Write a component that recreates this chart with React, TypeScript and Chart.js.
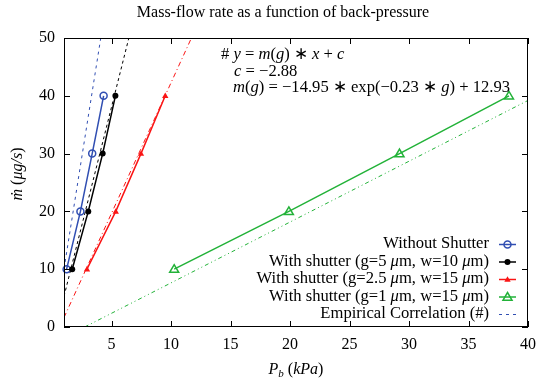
import React, { useEffect, useRef } from "react";
import { Chart, registerables } from "chart.js";

Chart.register(...registerables);

const xTicks = [5, 10, 15, 20, 25, 30, 35, 40];
const yTicks = [0, 10, 20, 30, 40, 50];

const flowY = [10, 20, 30, 40];
const noShutterX = [1.22, 2.38, 3.37, 4.33];
const g5X = [1.69, 3.04, 4.25, 5.32];
const g25X = [2.93, 5.35, 7.47, 9.51];
const g1X = [10.26, 19.9, 29.2, 38.4];

const corrBlueX = [1, 4.09];
const corrBlueY = [10.05, 50];
const corrBlackX = [1, 6.45];
const corrBlackY = [5.3, 50];
const corrRedX = [1, 11.71];
const corrRedY = [1.64, 50];
const corrGreenX = [2.74, 40];
const corrGreenY = [0, 39.2];

const BLUE = "rgb(48,78,178)";
const BLACK = "rgb(0,0,0)";
const RED = "rgb(250,20,20)";
const GREEN = "rgb(34,178,56)";

const FONT = '"Liberation Serif", "Times New Roman", serif';
const FS = 16;
const FA = 16.6;

const pts = (xs: number[], ys: number[]) => xs.map((x, i) => ({ x, y: ys[i] }));

type Seg = [string, boolean, number?, number?];

function segWidth(ctx: CanvasRenderingContext2D, segs: Seg[], size: number) {
  let w = 0;
  for (const s of segs) {
    ctx.font = `${s[1] ? "italic " : ""}${s[2] ?? size}px ${FONT}`;
    w += ctx.measureText(s[0]).width;
  }
  return w;
}

function drawSegs(ctx: CanvasRenderingContext2D, segs: Seg[], x: number, y: number, size: number, align: "left" | "right" | "center") {
  const w = segWidth(ctx, segs, size);
  let cx = align === "left" ? x : align === "right" ? x - w : x - w / 2;
  ctx.textAlign = "left";
  ctx.textBaseline = "middle";
  for (const s of segs) {
    ctx.font = `${s[1] ? "italic " : ""}${s[2] ?? size}px ${FONT}`;
    ctx.fillText(s[0], cx, y + (s[3] ?? 0));
    cx += ctx.measureText(s[0]).width;
  }
}

function marker(ctx: CanvasRenderingContext2D, type: string, x: number, y: number, color: string) {
  ctx.save();
  ctx.strokeStyle = color;
  ctx.fillStyle = color;
  ctx.lineWidth = 1.5;
  ctx.setLineDash([]);
  ctx.beginPath();
  if (type === "circleOpen") {
    ctx.arc(x, y, 3.5, 0, Math.PI * 2);
    ctx.stroke();
  } else if (type === "circle") {
    ctx.arc(x, y, 3, 0, Math.PI * 2);
    ctx.fill();
  } else if (type === "tri") {
    const r = 3.2;
    ctx.moveTo(x, y - r);
    ctx.lineTo(x + r, y + r * 0.7);
    ctx.lineTo(x - r, y + r * 0.7);
    ctx.closePath();
    ctx.fill();
  } else if (type === "triOpen") {
    const r = 4.5;
    ctx.moveTo(x, y - r);
    ctx.lineTo(x + r, y + r * 0.7);
    ctx.lineTo(x - r, y + r * 0.7);
    ctx.closePath();
    ctx.stroke();
  }
  ctx.restore();
}

const legendItems: { segs: Seg[]; color: string; marker: string; dash: number[]; width: number }[] = [
  { segs: [["Without Shutter", false]], color: BLUE, marker: "circleOpen", dash: [], width: 1.5 },
  {
    segs: [["With shutter (g=5 ", false], ["μ", true], ["m, w=10 ", false], ["μ", true], ["m)", false]],
    color: BLACK, marker: "circle", dash: [], width: 1.5,
  },
  {
    segs: [["With shutter (g=2.5 ", false], ["μ", true], ["m, w=15 ", false], ["μ", true], ["m)", false]],
    color: RED, marker: "tri", dash: [], width: 1.5,
  },
  {
    segs: [["With shutter (g=1 ", false], ["μ", true], ["m, w=15 ", false], ["μ", true], ["m)", false]],
    color: GREEN, marker: "triOpen", dash: [], width: 1.5,
  },
  { segs: [["Empirical Correlation (#)", false]], color: BLUE, marker: "", dash: [3, 4], width: 1 },
];

const decorPlugin = {
  id: "decor",
  afterDraw(chart: any) {
    const ctx: CanvasRenderingContext2D = chart.ctx;
    const { left, right, top, bottom } = chart.chartArea;
    const xs = chart.scales.x;
    const ys = chart.scales.y;
    ctx.save();
    // frame
    ctx.strokeStyle = "#000";
    ctx.lineWidth = 1;
    ctx.setLineDash([]);
    ctx.strokeRect(left + 0.5, top + 0.5, right - left - 1, bottom - top - 1);
    const tl = 6;
    ctx.beginPath();
    for (const v of xTicks) {
      const px = Math.round(xs.getPixelForValue(v)) + 0.5;
      ctx.moveTo(px, bottom);
      ctx.lineTo(px, bottom - tl);
      ctx.moveTo(px, top);
      ctx.lineTo(px, top + tl);
    }
    for (const v of yTicks) {
      const py = Math.round(ys.getPixelForValue(v)) + 0.5;
      ctx.moveTo(left, py);
      ctx.lineTo(left + tl, py);
      ctx.moveTo(right, py);
      ctx.lineTo(right - tl, py);
    }
    ctx.stroke();

    ctx.fillStyle = "#000";
    // title
    drawSegs(ctx, [["Mass-flow rate as a function of back-pressure", false]], 283, 13, FS, "center");
    // x label
    drawSegs(ctx, [["P", true], ["b", true, 11, 4], [" (", false], ["kPa", true], [")", false]], (left + right) / 2, 370, FS, "center");
    // y label
    ctx.save();
    ctx.translate(18, 174);
    ctx.rotate(-Math.PI / 2);
    drawSegs(ctx, [["ṁ", true], [" (", false], ["μg/s", true], [")", false]], 0, 0, FS, "center");
    ctx.restore();

    // annotation
    drawSegs(ctx, [["# ", false], ["y", true], [" = ", false], ["m", true], ["(", false], ["g", true], [") ∗ ", false], ["x", true], [" + ", false], ["c", true]], 221, 55, FA, "left");
    drawSegs(ctx, [["c", true], [" = −2.88", false]], 234, 72, FA, "left");
    drawSegs(ctx, [["m", true], ["(", false], ["g", true], [") = −14.95 ∗ exp(−0.23 ∗ ", false], ["g", true], [") + 12.93", false]], 233, 88, FA, "left");

    // legend
    legendItems.forEach((it, i) => {
      const y = 244 + i * 17.5;
      ctx.fillStyle = "#000";
      drawSegs(ctx, it.segs, 489, y, FA, "right");
      ctx.save();
      ctx.strokeStyle = it.color;
      ctx.lineWidth = it.width;
      ctx.setLineDash(it.dash);
      ctx.beginPath();
      ctx.moveTo(499, y + 0.5);
      ctx.lineTo(516, y + 0.5);
      ctx.stroke();
      ctx.restore();
      if (it.marker) marker(ctx, it.marker, 507.5, y + 0.5, it.color);
    });
    ctx.restore();
  },
};

const markerPlugin = {
  id: "markers",
  afterDatasetsDraw(chart: any) {
    const ctx: CanvasRenderingContext2D = chart.ctx;
    chart.data.datasets.forEach((ds: any, i: number) => {
      if (!ds.markerType) return;
      const meta = chart.getDatasetMeta(i);
      meta.data.forEach((el: any) => marker(ctx, ds.markerType, el.x, el.y, ds.borderColor));
    });
  },
};

export default function App() {
  const ref = useRef<HTMLCanvasElement>(null);
  useEffect(() => {
    if (!ref.current) return;
    const line = (data: any, color: string, extra: any) => ({
      data,
      borderColor: color,
      backgroundColor: color,
      showLine: true,
      pointRadius: 0,
      pointHoverRadius: 0,
      tension: 0,
      ...extra,
    });
    const chart = new Chart(ref.current, {
      type: "scatter",
      data: {
        datasets: [
          line(pts(corrBlueX, corrBlueY), BLUE, { borderWidth: 1, borderDash: [3, 4] }),
          line(pts(corrBlackX, corrBlackY), BLACK, { borderWidth: 1, borderDash: [3, 3] }),
          line(pts(corrRedX, corrRedY), RED, { borderWidth: 1, borderDash: [5, 3, 1, 3] }),
          line(pts(corrGreenX, corrGreenY), GREEN, { borderWidth: 1, borderDash: [4, 3, 1, 3, 1, 3] }),
          line(pts(noShutterX, flowY), BLUE, { borderWidth: 1.5, markerType: "circleOpen" }),
          line(pts(g5X, flowY), BLACK, { borderWidth: 1.5, markerType: "circle" }),
          line(pts(g25X, flowY), RED, { borderWidth: 1.5, markerType: "tri" }),
          line(pts(g1X, flowY), GREEN, { borderWidth: 1.5, markerType: "triOpen" }),
        ],
      },
      options: {
        animation: false,
        responsive: true,
        maintainAspectRatio: false,
        layout: { padding: { top: 38, right: 8, left: 0, bottom: 0 } },
        plugins: { legend: { display: false }, title: { display: false }, tooltip: { enabled: false } },
        events: [],
        scales: {
          x: {
            type: "linear",
            min: 1,
            max: 40,
            grid: { display: false, drawTicks: false },
            border: { display: false },
            afterBuildTicks: (s: any) => { s.ticks = xTicks.map((v) => ({ value: v })); },
            afterFit: (s: any) => { s.height = 56; },
            ticks: { color: "#000", font: { family: FONT, size: FS }, padding: 8, maxRotation: 0, autoSkip: false },
          },
          y: {
            type: "linear",
            min: 0,
            max: 50,
            grid: { display: false, drawTicks: false },
            border: { display: false },
            afterBuildTicks: (s: any) => { s.ticks = yTicks.map((v) => ({ value: v })); },
            afterFit: (s: any) => { s.width = 64; },
            ticks: { color: "#000", font: { family: FONT, size: FS }, padding: 9, autoSkip: false },
          },
        },
      },
      plugins: [markerPlugin, decorPlugin],
    } as any);
    return () => chart.destroy();
  }, []);
  return (
    <div style={{ position: "fixed", left: 0, top: 0, width: 544, height: 383, background: "#fff" }}>
      <canvas ref={ref} />
    </div>
  );
}
